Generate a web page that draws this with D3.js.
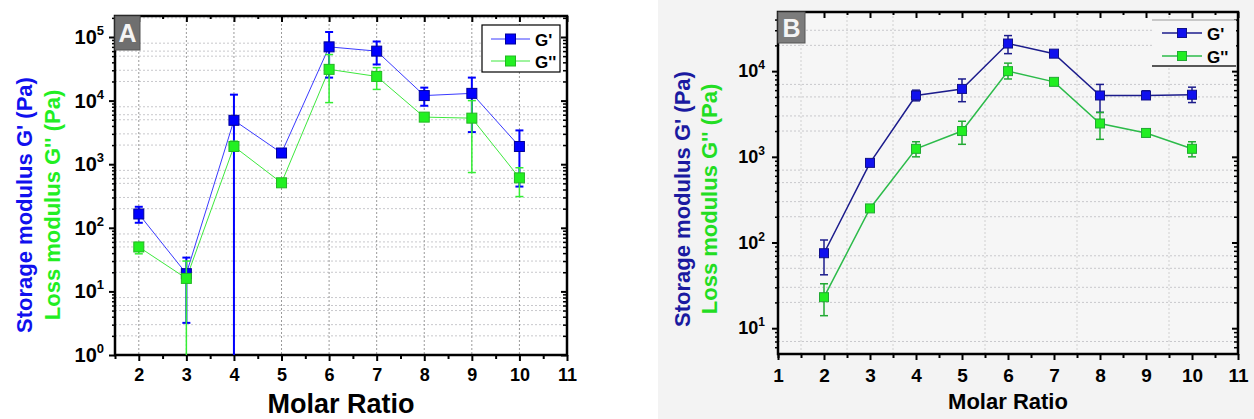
<!DOCTYPE html>
<html>
<head>
<meta charset="utf-8">
<script src="https://cdn.jsdelivr.net/npm/d3@7"></script>
<style>
  html, body { margin: 0; padding: 0; background: #ffffff; }
  svg { display: block; }
  text { font-family: "Liberation Sans", Arial, sans-serif; font-weight: bold; }
</style>
</head>
<body>
<svg id="chart" width="1254" height="419"></svg>
<script>
// ---------------- DATA ----------------
const ratios = [2, 3, 4, 5, 6, 7, 8, 9, 10];
const xTicks = [2, 3, 4, 5, 6, 7, 8, 9, 10, 11];
const xTicksB = [1, 2, 3, 4, 5, 6, 7, 8, 9, 10, 11];
const yTicksA = [1, 10, 100, 1000, 10000, 100000];
const yTicksB = [10, 100, 1000, 10000];
const seriesNames = ["G'", "G''"];

// Panel A
const gpA    = [165, 19, 4900, 1500, 70000, 60000, 12000, 13000, 1900];
const gpA_hi = [214, 34, 12400, 1550, 120000, 85000, 16000, 23000, 3400];
const gpA_lo = [120, 3.2, 0.1, 1450, 23000, 37000, 8300, 3200, 445];
const gppA    = [50, 16, 1900, 510, 31000, 24000, 5500, 5300, 610];
const gppA_hi = [58, 30, 2300, 530, 53000, 33000, 5800, 10000, 880];
const gppA_lo = [39, 0.1, 1600, 490, 9300, 15000, 5200, 740, 310];

// Panel B
const gpB    = [75, 850, 5200, 6200, 21000, 16000, 5200, 5200, 5300];
const gpB_hi = [107, 900, 6000, 8100, 26000, 17000, 7000, 5900, 6500];
const gpB_lo = [42, 800, 4500, 4400, 16000, 15000, 3300, 4700, 4300];
const gppB    = [23, 250, 1240, 2000, 10000, 7500, 2450, 1900, 1240];
const gppB_hi = [33, 265, 1500, 2600, 12400, 7900, 3300, 2100, 1500];
const gppB_lo = [14, 235, 1000, 1400, 8100, 7100, 1600, 1700, 1000];

// ---------------- DRAW ----------------
const svg = d3.select("#chart");

// light gray background of panel B image
svg.append("rect").attr("x", 658).attr("y", 0).attr("width", 596).attr("height", 419).attr("fill", "#f3f3f3");

function supLabel(sel, fs, supFs, dy) {
  sel.each(function(d) {
    const t = d3.select(this);
    const e = Math.round(Math.log10(d));
    t.text("10");
    t.append("tspan").attr("font-size", supFs).attr("dy", dy).text(e);
  });
}

function drawPanel(c) {
  const x = d3.scaleLinear().domain(c.xDomain).range([c.left, c.right]);
  const y = d3.scaleLog().domain(c.yDomain).range([c.bottom, c.top]);
  const g = svg.append("g");
  const decades = [];
  for (let e = Math.floor(Math.log10(c.yDomain[0])); e <= Math.ceil(Math.log10(c.yDomain[1])); e++) decades.push(e);
  const minors = [];
  decades.forEach(e => { for (let m = 2; m <= 9; m++) { const v = m * Math.pow(10, e); if (v > c.yDomain[0] && v < c.yDomain[1]) minors.push(v); } });
  const gridMinors = [];
  decades.forEach(e => { c.gridMult.forEach(m => { const v = m * Math.pow(10, e); if (v > c.yDomain[0] && v < c.yDomain[1]) gridMinors.push(v); }); });

  // plot background
  g.append("rect").attr("x", c.left).attr("y", c.top).attr("width", c.right - c.left).attr("height", c.bottom - c.top).attr("fill", c.plotBg);

  // horizontal grid
  g.append("g").selectAll("line").data(gridMinors).join("line")
    .attr("x1", c.left).attr("x2", c.right).attr("y1", d => y(d)).attr("y2", d => y(d))
    .attr("stroke", "#c8c8cc").attr("stroke-width", 1).attr("stroke-dasharray", "2,2");
  // vertical grid
  g.append("g").selectAll("line").data(c.vGrid).join("line")
    .attr("x1", d => x(d)).attr("x2", d => x(d)).attr("y1", c.top).attr("y2", c.bottom)
    .attr("stroke", c.vGridColor).attr("stroke-width", 1).attr("stroke-dasharray", "2,2");

  // axes: bottom
  const bx = g.append("g").attr("transform", `translate(0,${c.bottom})`)
    .call(d3.axisBottom(x).tickValues(c.xTicks).tickSize(6).tickPadding(c.xPad).tickFormat(d3.format("d")));
  bx.select(".domain").remove();
  bx.selectAll("line").attr("stroke", "#000").attr("stroke-width", 2);
  bx.selectAll("text").attr("font-size", c.xFs).attr("fill", "#000").attr("font-family", "Liberation Sans, Arial").attr("font-weight", "bold");
  const halfTicks = c.xTicks.slice(0, -1).map(d => d + 0.5).concat([c.xDomain[0]]).filter(d => d >= c.xDomain[0] && d <= c.xDomain[1]);
  g.append("g").attr("transform", `translate(0,${c.bottom})`)
    .call(d3.axisBottom(x).tickValues(halfTicks).tickSize(4).tickFormat(""))
    .call(s => { s.select(".domain").remove(); s.selectAll("line").attr("stroke", "#000").attr("stroke-width", 2); });
  // top ticks (inward)
  g.append("g").attr("transform", `translate(0,${c.top})`)
    .call(d3.axisBottom(x).tickValues(c.xTicks).tickSize(6).tickFormat(""))
    .call(s => { s.select(".domain").remove(); s.selectAll("line").attr("stroke", "#000").attr("stroke-width", 2); });
  g.append("g").attr("transform", `translate(0,${c.top})`)
    .call(d3.axisBottom(x).tickValues(halfTicks).tickSize(3).tickFormat(""))
    .call(s => { s.select(".domain").remove(); s.selectAll("line").attr("stroke", "#000").attr("stroke-width", 2); });

  // left axis
  const ly = g.append("g").attr("transform", `translate(${c.left},0)`)
    .call(d3.axisLeft(y).tickValues(c.yTicks).tickSize(6).tickPadding(c.yPad).tickFormat(d => d));
  ly.select(".domain").remove();
  ly.selectAll("line").attr("stroke", "#000").attr("stroke-width", 2);
  ly.selectAll("text").attr("font-size", c.yFs).attr("fill", "#000").attr("font-family", "Liberation Sans, Arial").attr("font-weight", "bold")
    .call(s => supLabel(s, c.yFs, c.supFs, c.supDy));
  g.append("g").attr("transform", `translate(${c.left},0)`)
    .call(d3.axisLeft(y).tickValues(minors).tickSize(3).tickFormat(""))
    .call(s => { s.select(".domain").remove(); s.selectAll("line").attr("stroke", "#000").attr("stroke-width", 1.5); });
  // right axis ticks (inward)
  g.append("g").attr("transform", `translate(${c.right},0)`)
    .call(d3.axisRight(y).tickValues(c.yTicks).tickSize(-6).tickFormat(""))
    .call(s => { s.select(".domain").remove(); s.selectAll("line").attr("stroke", "#000").attr("stroke-width", 2); });
  g.append("g").attr("transform", `translate(${c.right},0)`)
    .call(d3.axisRight(y).tickValues(minors).tickSize(-4).tickFormat(""))
    .call(s => { s.select(".domain").remove(); s.selectAll("line").attr("stroke", "#000").attr("stroke-width", 1.5); });

  // frame
  g.append("rect").attr("x", c.left).attr("y", c.top).attr("width", c.right - c.left).attr("height", c.bottom - c.top)
    .attr("fill", "none").attr("stroke", "#000").attr("stroke-width", 2.5);

  // series
  const yc = v => y(Math.max(v, c.yDomain[0]));
  const series = c.series;
  const lineGen = d3.line().x((d, i) => x(ratios[i])).y(d => y(d));
  const plot = g.append("g");
  series.forEach(s => {
    plot.append("path").datum(s.v).attr("d", lineGen).attr("fill", "none")
      .attr("stroke", s.line).attr("stroke-width", s.lw);
  });
  series.forEach(s => {
    const eb = plot.append("g");
    s.v.forEach((v, i) => {
      const xi = x(ratios[i]);
      eb.append("line").attr("x1", xi).attr("x2", xi).attr("y1", yc(s.hi[i])).attr("y2", yc(s.lo[i]))
        .attr("stroke", s.err).attr("stroke-width", s.ew);
      [s.hi[i], s.lo[i]].forEach(b => {
        if (b > c.yDomain[0]) eb.append("line").attr("x1", xi - 4).attr("x2", xi + 4).attr("y1", y(b)).attr("y2", y(b))
          .attr("stroke", s.err).attr("stroke-width", s.ew);
      });
    });
    plot.append("g").selectAll("rect").data(s.v).join("rect")
      .attr("x", (d, i) => x(ratios[i]) - c.ms / 2).attr("y", d => y(d) - c.ms / 2)
      .attr("width", c.ms).attr("height", c.ms)
      .attr("fill", s.fill).attr("stroke", s.stroke).attr("stroke-width", 1);
  });

  // panel letter box
  g.append("rect").attr("x", c.left).attr("y", c.top).attr("width", c.boxW).attr("height", c.boxH)
    .attr("fill", c.boxFill).attr("stroke", "#555").attr("stroke-width", 1);
  g.append("text").attr("x", c.left + c.boxW / 2).attr("y", c.top + c.boxH / 2 + 9).attr("text-anchor", "middle")
    .attr("font-size", 25).attr("font-weight", "normal").attr("fill", "#f4f4f4").text(c.letter);

  // legend
  if (c.legendBox) {
    g.append("rect").attr("x", c.lg.x).attr("y", c.lg.y).attr("width", c.lg.w).attr("height", c.lg.h)
      .attr("fill", c.plotBg).attr("stroke", "#000").attr("stroke-width", 1.2);
  } else {
    g.append("rect").attr("x", c.lg.x).attr("y", c.lg.y).attr("width", c.lg.w).attr("height", c.lg.h).attr("fill", c.plotBg);
    g.append("line").attr("x1", c.lg.x).attr("x2", c.lg.x + c.lg.w).attr("y1", c.lg.y).attr("y2", c.lg.y).attr("stroke", "#999").attr("stroke-width", 1);
    g.append("line").attr("x1", c.lg.x).attr("x2", c.lg.x + c.lg.w).attr("y1", c.lg.y + c.lg.h).attr("y2", c.lg.y + c.lg.h).attr("stroke", "#222").attr("stroke-width", 1.5);
  }
  series.forEach((s, k) => {
    const ry = c.lg.rows[k];
    g.append("line").attr("x1", c.lg.l1).attr("x2", c.lg.l2).attr("y1", ry).attr("y2", ry).attr("stroke", s.line).attr("stroke-width", s.lw);
    const mx = (c.lg.l1 + c.lg.l2) / 2;
    g.append("rect").attr("x", mx - c.ms / 2).attr("y", ry - c.ms / 2).attr("width", c.ms).attr("height", c.ms)
      .attr("fill", s.fill).attr("stroke", s.stroke).attr("stroke-width", 1);
    g.append("text").attr("x", c.lg.tx).attr("y", ry + 6.5).attr("font-size", c.lg.fs).attr("fill", "#000").text(seriesNames[k]);
  });

  // axis titles
  g.append("text").attr("x", (c.left + c.right) / 2 + c.xtOff).attr("y", c.xtY).attr("text-anchor", "middle")
    .attr("font-size", c.xtFs).attr("fill", "#000").text("Molar Ratio");
  g.append("text").attr("transform", `translate(${c.yt1x},${c.ytCy}) rotate(-90)`).attr("text-anchor", "middle")
    .attr("font-size", c.ytFs).attr("fill", c.yt1c).text("Storage modulus G' (Pa)");
  g.append("text").attr("transform", `translate(${c.yt2x},${c.ytCy}) rotate(-90)`).attr("text-anchor", "middle")
    .attr("font-size", c.ytFs).attr("fill", c.yt2c).text("Loss modulus G'' (Pa)");
}

drawPanel({
  left: 115, right: 567, top: 16, bottom: 355,
  xDomain: [1.5, 11], yDomain: [1, 2.14e5],
  xTicks: xTicks, yTicks: yTicksA,
  gridMult: [2, 3, 5, 6, 8], vGrid: [2, 3, 4, 5, 6, 7, 8, 9, 10], vGridColor: "#9a9a9a",
  plotBg: "#ffffff",
  xPad: 7, xFs: 18, yPad: 5, yFs: 20, supFs: 13, supDy: -9,
  ms: 10,
  series: [
    { v: gpA, hi: gpA_hi, lo: gpA_lo, line: "#3a3aff", lw: 1, err: "#0000ff", ew: 2, fill: "#0000ff", stroke: "#00009a" },
    { v: gppA, hi: gppA_hi, lo: gppA_lo, line: "#3ee83e", lw: 1, err: "#33ee33", ew: 1.5, fill: "#22f022", stroke: "#22b822" }
  ],
  letter: "A", boxW: 25, boxH: 34, boxFill: "#6f6f6f",
  legendBox: true,
  lg: { x: 482, y: 25, w: 78, h: 47, rows: [39, 61], l1: 491, l2: 530, tx: 535, fs: 17 },
  xtOff: 0, xtY: 413, xtFs: 27,
  yt1x: 32, yt2x: 60, ytCy: 205, ytFs: 22, yt1c: "#1010ee", yt2c: "#22ee22"
});

drawPanel({
  left: 778, right: 1238, top: 12, bottom: 354,
  xDomain: [1, 11], yDomain: [5, 4.9e4],
  xTicks: xTicksB, yTicks: yTicksB,
  gridMult: [2, 3, 5, 7], vGrid: [1.5, 2.5, 3.5, 5.5, 7.5, 9.5], vGridColor: "#d0d0d0",
  plotBg: "#f6f6f6",
  xPad: 8.5, xFs: 19, yPad: 7, yFs: 18, supFs: 12, supDy: -8,
  ms: 9,
  series: [
    { v: gpB, hi: gpB_hi, lo: gpB_lo, line: "#1c1c8c", lw: 1.5, err: "#1c1c8c", ew: 1.5, fill: "#1010ee", stroke: "#10108a" },
    { v: gppB, hi: gppB_hi, lo: gppB_lo, line: "#2cbb4a", lw: 1.5, err: "#22aa33", ew: 1.5, fill: "#22ee22", stroke: "#22aa33" }
  ],
  letter: "B", boxW: 27, boxH: 31, boxFill: "#7c7c7c",
  legendBox: false,
  lg: { x: 1152, y: 20, w: 84, h: 46, rows: [33, 56], l1: 1162, l2: 1202, tx: 1207, fs: 17 },
  xtOff: 0, xtY: 409, xtFs: 22,
  yt1x: 690, yt2x: 717, ytCy: 199, ytFs: 22, yt1c: "#1a1aa0", yt2c: "#22dd22"
});
</script>
</body>
</html>
